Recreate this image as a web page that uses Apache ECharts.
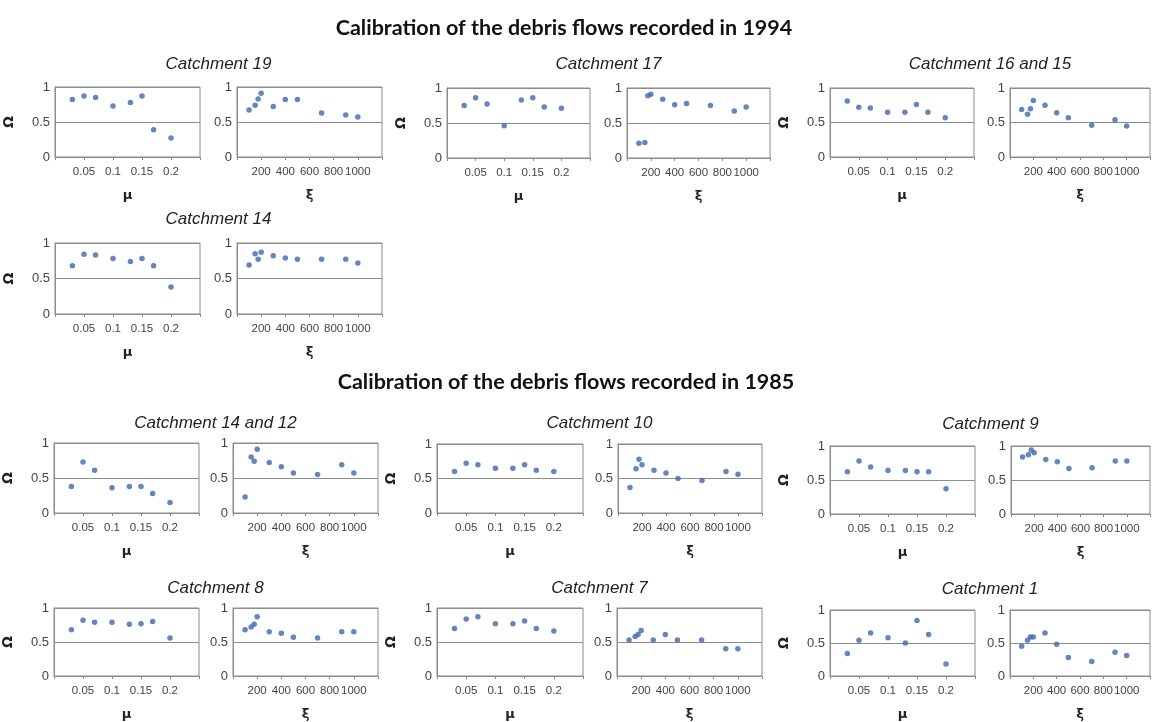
<!DOCTYPE html>
<html>
<head>
<meta charset="utf-8">
<script src="https://cdn.jsdelivr.net/npm/echarts@6/dist/echarts.min.js"></script>
<style>
  html, body { margin: 0; padding: 0; background: #fff; }
  #chart { width: 1153px; height: 722px; }
</style>
</head>
<body>
<div id="chart"></div>
<script>
// Friction coefficient (mu) and turbulence coefficient (xi) tried in the runs
const muValues = [0.03, 0.05, 0.07, 0.10, 0.13, 0.15, 0.17, 0.20];
const xiValues = [100, 150, 175, 200, 300, 400, 500, 700, 900, 1000];

const muTicks = [0.05, 0.1, 0.15, 0.2];
const xiTicks = [200, 400, 600, 800, 1000];

const groupTitles = ['Calibration of the debris flows recorded in 1994',
                     'Calibration of the debris flows recorded in 1985'];

const catchmentNames = ['Catchment 19', 'Catchment 17', 'Catchment 16 and 15', 'Catchment 14',
                        'Catchment 14 and 12', 'Catchment 10', 'Catchment 9',
                        'Catchment 8', 'Catchment 7', 'Catchment 1'];

// Omega score for each mu value
const omegaMu19    = [0.82, 0.87, 0.85, 0.73, 0.78, 0.87, 0.39, 0.27];
const omegaMu17    = [0.75, 0.86, 0.77, 0.46, 0.83, 0.86, 0.73, 0.71];
const omegaMu16_15 = [0.81, 0.72, 0.71, 0.65, 0.65, 0.76, 0.65, 0.57];
const omegaMu14    = [0.68, 0.84, 0.83, 0.78, 0.74, 0.78, 0.68, 0.38];
const omegaMu14_12 = [0.38, 0.73, 0.61, 0.36, 0.38, 0.38, 0.28, 0.15];
const omegaMu10    = [0.60, 0.72, 0.70, 0.65, 0.65, 0.70, 0.62, 0.60];
const omegaMu9     = [0.62, 0.78, 0.69, 0.64, 0.64, 0.62, 0.62, 0.37];
const omegaMu8     = [0.68, 0.82, 0.79, 0.79, 0.76, 0.77, 0.80, 0.56];
const omegaMu7     = [0.70, 0.84, 0.87, 0.77, 0.77, 0.81, 0.70, 0.66];
const omegaMu1     = [0.34, 0.54, 0.65, 0.58, 0.50, 0.84, 0.63, 0.18];

// Omega score for each xi value
const omegaXi19    = [0.67, 0.74, 0.83, 0.91, 0.72, 0.82, 0.82, 0.63, 0.60, 0.57];
const omegaXi17    = [0.21, 0.22, 0.89, 0.91, 0.84, 0.76, 0.78, 0.75, 0.67, 0.73];
const omegaXi16_15 = [0.69, 0.62, 0.70, 0.82, 0.75, 0.64, 0.57, 0.46, 0.54, 0.45];
const omegaXi14    = [0.69, 0.85, 0.77, 0.87, 0.82, 0.79, 0.77, 0.77, 0.77, 0.72];
const omegaXi14_12 = [0.23, 0.80, 0.74, 0.91, 0.72, 0.66, 0.57, 0.55, 0.69, 0.57];
const omegaXi10    = [0.37, 0.64, 0.78, 0.70, 0.62, 0.58, 0.50, 0.47, 0.60, 0.56];
const omegaXi9     = [0.84, 0.87, 0.94, 0.90, 0.80, 0.77, 0.67, 0.68, 0.78, 0.78];
const omegaXi8     = [0.68, 0.72, 0.76, 0.87, 0.65, 0.63, 0.57, 0.56, 0.65, 0.65];
const omegaXi7     = [0.53, 0.58, 0.61, 0.67, 0.53, 0.61, 0.53, 0.53, 0.40, 0.40];
const omegaXi1     = [0.45, 0.54, 0.59, 0.59, 0.65, 0.48, 0.28, 0.22, 0.36, 0.31];

const omegaMuSets = [omegaMu19, omegaMu17, omegaMu16_15, omegaMu14, omegaMu14_12,
                     omegaMu10, omegaMu9, omegaMu8, omegaMu7, omegaMu1];
const omegaXiSets = [omegaXi19, omegaXi17, omegaXi16_15, omegaXi14, omegaXi14_12,
                     omegaXi10, omegaXi9, omegaXi8, omegaXi7, omegaXi1];

// Panel placement: [left, top, width, height] of the mu box and the xi box
const panelBoxes = [
  { mu: [55, 87, 145, 70],  xi: [237, 87, 145, 70],  titleY: 64 },
  { mu: [447, 88, 143, 70], xi: [627, 88, 143, 70],  titleY: 64 },
  { mu: [830, 88, 144, 69], xi: [1010, 88, 140, 69], titleY: 64 },
  { mu: [55, 243, 145, 71], xi: [237, 243, 145, 71], titleY: 219 },
  { mu: [53, 443, 146, 70], xi: [233, 443, 145, 70], titleY: 423 },
  { mu: [437, 444, 146, 69], xi: [618, 444, 144, 69], titleY: 423 },
  { mu: [830, 446, 145, 68], xi: [1011, 446, 140, 68], titleY: 424 },
  { mu: [53, 608, 146, 70], xi: [233, 608, 145, 70], titleY: 588 },
  { mu: [437, 608, 146, 70], xi: [617, 608, 145, 70], titleY: 588 },
  { mu: [830, 610, 145, 70], xi: [1010, 610, 140, 70], titleY: 589 }
];

const frameColor = '#8c8c8c';
const dotColor = '#3f67b3';

const grids = [], xAxes = [], yAxes = [], series = [], graphics = [];

function addPanel(rect, xs, ys, axisMax, step, ticks, axisName, withOmega) {
  const i = grids.length;
  grids.push({
    left: rect[0], top: rect[1], width: rect[2], height: rect[3],
    show: true, borderColor: frameColor, borderWidth: 1, backgroundColor: '#fff'
  });
  xAxes.push({
    gridIndex: i, type: 'value', min: 0, max: axisMax, interval: step,
    axisLine: { show: true, lineStyle: { color: frameColor } },
    axisTick: {
      show: true, length: 3, lineStyle: { color: frameColor },
      interval: (idx, v) => ticks.some(t => Math.abs(t - v) < step / 10)
    },
    splitLine: { show: false },
    axisLabel: {
      fontSize: 11.5, color: '#444', margin: 9, fontFamily: 'Liberation Sans',
      formatter: v => {
        const t = ticks.find(t => Math.abs(t - v) < step / 10);
        return t === undefined ? '' : String(t);
      }
    },
    name: axisName, nameLocation: 'middle', nameGap: 32,
    nameTextStyle: { fontSize: 13, fontWeight: 'bold', color: '#222', fontFamily: 'DejaVu Sans' }
  });
  yAxes.push({
    gridIndex: i, type: 'value', min: 0, max: 1, interval: 0.5,
    axisLine: { show: true, lineStyle: { color: frameColor } },
    axisTick: { show: false },
    splitLine: { show: true, lineStyle: { color: frameColor, width: 1 } },
    axisLabel: { fontSize: 13, color: '#444', margin: 5, fontFamily: 'Liberation Sans' },
    name: withOmega ? 'Ω' : '', nameLocation: 'middle', nameGap: 39, nameRotate: 90,
    nameTextStyle: { fontSize: 14, fontWeight: 'bold', color: '#222', fontFamily: 'DejaVu Sans' }
  });
  series.push({
    type: 'scatter', xAxisIndex: i, yAxisIndex: i,
    data: xs.map((x, k) => [x, ys[k]]),
    symbol: 'circle', symbolSize: 5.5,
    itemStyle: { color: dotColor },
    silent: true
  });
}

panelBoxes.forEach((box, c) => {
  addPanel(box.mu, muValues, omegaMuSets[c], 0.25, 0.05, muTicks, 'μ', true);
  addPanel(box.xi, xiValues, omegaXiSets[c], 1200, 200, xiTicks, 'ξ', false);
  const cx = (box.mu[0] + box.xi[0] + box.xi[2]) / 2;
  graphics.push({
    type: 'text', x: cx, y: box.titleY,
    style: {
      text: catchmentNames[c], fill: '#222',
      font: 'italic 17px "Liberation Sans"', align: 'center', verticalAlign: 'middle'
    }
  });
});

// Group headings
[[564, 28], [566, 382]].forEach((pos, g) => {
  graphics.push({
    type: 'text', x: pos[0], y: pos[1],
    style: {
      text: groupTitles[g], fill: '#111',
      font: 'bold 21.5px Lato', align: 'center', verticalAlign: 'middle'
    }
  });
});

const chart = echarts.init(document.getElementById('chart'), null, { renderer: 'canvas' });
chart.setOption({
  animation: false,
  backgroundColor: '#fff',
  grid: grids,
  xAxis: xAxes,
  yAxis: yAxes,
  series: series,
  graphic: graphics
});
</script>
</body>
</html>
